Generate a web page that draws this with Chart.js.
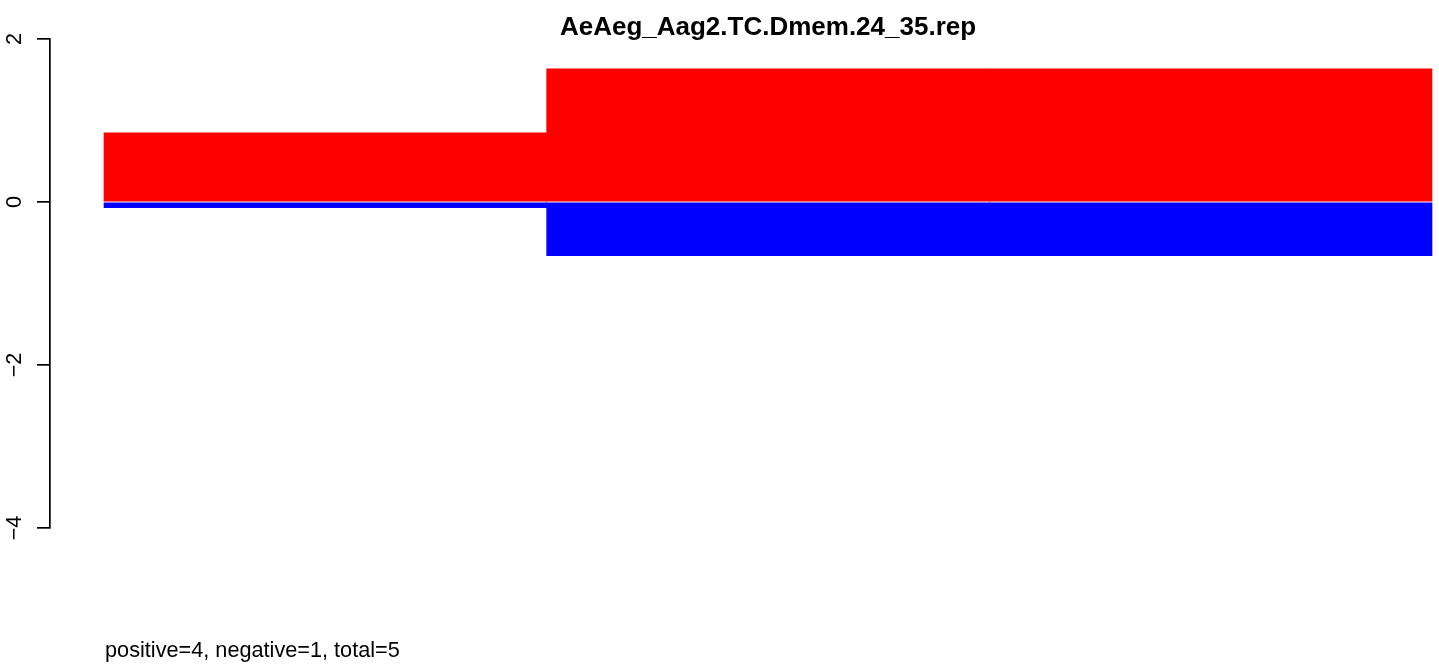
<!DOCTYPE html>
<html>
<head>
<meta charset="utf-8">
<script src="https://cdn.jsdelivr.net/npm/chart.js@4"></script>
<style>
html,body{margin:0;padding:0;background:#fff;overflow:hidden;}
#wrap{width:1439px;height:666px;}
</style>
</head>
<body>
<div id="wrap"><canvas id="c" width="1439" height="666"></canvas></div>
<script>
// ---- data ----
const titleText = "AeAeg_Aag2.TC.Dmem.24_35.rep";
const footerText = "positive=4, negative=1, total=5";
const categories = ["1", "2", "3"];
const positiveValues = [0.85, 1.635, 1.635];
const negativeValues = [-0.07, -0.66, -0.66];
const yTickValues = [2, 0, -2, -4];
const yTickLabels = ["2", "0", "\u22122", "\u22124"];

const FONT = '"Liberation Sans", Arial, sans-serif';

function pts(vals) {
  return vals.map((v, i) => ({ x: i + 0.5, y: v }));
}

const textPlugin = {
  id: 'rtext',
  afterDraw(chart) {
    const ctx = chart.ctx;
    const xs = chart.scales.x, ys = chart.scales.y;
    ctx.save();
    ctx.fillStyle = '#000';
    // title
    ctx.font = 'bold 26px ' + FONT;
    ctx.textAlign = 'center';
    ctx.textBaseline = 'alphabetic';
    const cx = (xs.getPixelForValue(0) + xs.getPixelForValue(categories.length)) / 2;
    ctx.fillText(titleText, cx, 34.5);
    // footer
    ctx.font = '21.7px ' + FONT;
    ctx.textAlign = 'left';
    ctx.fillText(footerText, xs.getPixelForValue(0) + 1, 657);
    // y tick labels (rotated, parallel to axis)
    yTickValues.forEach((v, i) => {
      const py = ys.getPixelForValue(v);
      ctx.save();
      ctx.translate(20.5, py);
      ctx.rotate(-Math.PI / 2);
      ctx.textAlign = 'center';
      ctx.textBaseline = 'alphabetic';
      ctx.fillText(yTickLabels[i], 0, 0);
      ctx.restore();
    });
    ctx.restore();
  }
};

new Chart(document.getElementById('c'), {
  type: 'bar',
  data: {
    datasets: [
      { label: 'positive', data: pts(positiveValues), backgroundColor: '#FF0000', borderWidth: 0,
        barPercentage: 1, categoryPercentage: 1 },
      { label: 'negative', data: pts(negativeValues), backgroundColor: '#0000FF', borderWidth: 0,
        barPercentage: 1, categoryPercentage: 1 }
    ]
  },
  options: {
    responsive: false,
    devicePixelRatio: 1,
    animation: false,
    events: [],
    layout: { padding: { top: 39, bottom: 138, left: 0, right: 0 } },
    plugins: { legend: { display: false }, title: { display: false }, tooltip: { enabled: false } },
    scales: {
      x: {
        type: 'linear',
        stacked: true,
        display: false,
        offset: false,
        min: -0.122,
        max: 3.0158,
        afterBuildTicks: s => { s.ticks = categories.map((c, i) => ({ value: i + 0.5 })); }
      },
      y: {
        stacked: true,
        min: -4,
        max: 2,
        afterBuildTicks: s => { s.ticks = yTickValues.map(v => ({ value: v })); },
        afterFit: s => { s.width = 50; },
        ticks: { display: false },
        grid: { display: true, drawOnChartArea: false, drawTicks: true, tickLength: 13, color: '#000', lineWidth: 1.7 },
        border: { display: true, color: '#000', width: 1.7 }
      }
    }
  },
  plugins: [textPlugin]
});
</script>
</body>
</html>
